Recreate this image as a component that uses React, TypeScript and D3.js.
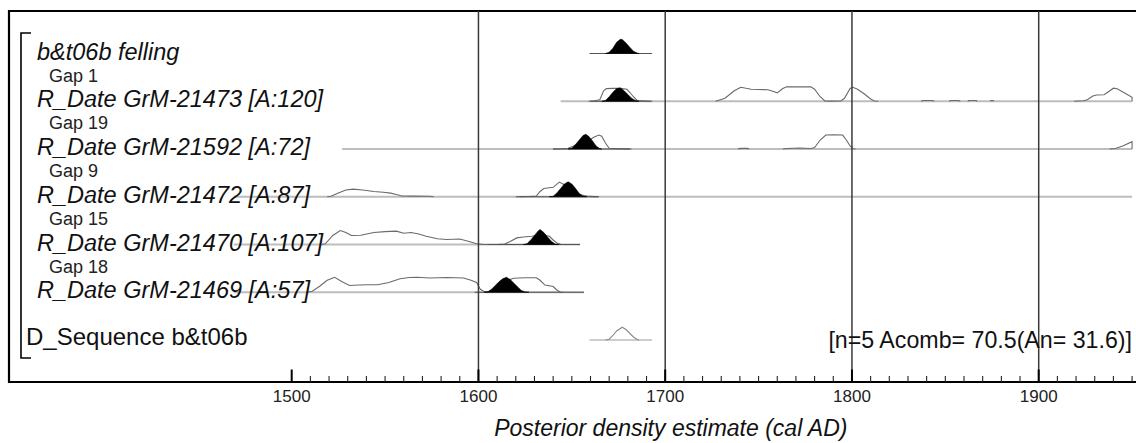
import React, { useEffect, useRef } from 'react';
import * as d3 from 'd3';

type Pt = [number, number];

const width = 1136;
const height = 443;

const rowLabels = [
  'b&t06b felling',
  'R_Date GrM-21473 [A:120]',
  'R_Date GrM-21592 [A:72]',
  'R_Date GrM-21472 [A:87]',
  'R_Date GrM-21470 [A:107]',
  'R_Date GrM-21469 [A:57]',
];
const gapLabels = ['Gap 1', 'Gap 19', 'Gap 9', 'Gap 15', 'Gap 18'];
const seqLabel = 'D_Sequence b&t06b';
const seqNote = '[n=5 Acomb= 70.5(An= 31.6)]';
const axisTitle = 'Posterior density estimate (cal AD)';
const majorTicks = [1500, 1600, 1700, 1800, 1900];
const gridYears = [1600, 1700, 1800, 1900];

// grey line = range of the unmodelled date, rows 1..5
const likeRanges: Pt[] = [[1644, 1950], [1527, 1950], [1469, 1950], [1469, 1654.4], [1469, 1656.5]];
// dark line = range of the posterior, rows 0..5
const postRanges: Pt[] = [[1659.5, 1693], [1660, 1693], [1640, 1681], [1620, 1664.6], [1605, 1654.4], [1598, 1656.5]];

// posterior densities (relative height), rows 0..5
const fellingPost: Pt[] = [[1668, 0], [1670, 0.08], [1672, 0.35], [1674, 0.75], [1676, 0.95], [1677, 0.93], [1679, 0.7], [1681, 0.42], [1683, 0.15], [1685, 0.03], [1686, 0]];
const post21473: Pt[] = [[1666, 0], [1668, 0.05], [1670, 0.3], [1672, 0.6], [1674, 0.85], [1676, 0.89], [1678, 0.7], [1680, 0.45], [1682, 0.2], [1684, 0.05], [1686, 0]];
const post21592: Pt[] = [[1648, 0], [1650, 0.05], [1652, 0.3], [1654, 0.6], [1656, 0.9], [1657.5, 0.98], [1659, 0.85], [1661, 0.55], [1663, 0.2], [1665, 0.02], [1666, 0]];
const post21472: Pt[] = [[1638, 0], [1640, 0.03], [1642, 0.25], [1644, 0.55], [1646, 0.85], [1648, 1], [1650, 0.85], [1652, 0.55], [1654, 0.22], [1656, 0.03], [1658, 0]];
const post21470: Pt[] = [[1624, 0], [1626, 0.05], [1628, 0.3], [1630, 0.6], [1632, 0.9], [1633, 1], [1635, 0.8], [1637, 0.5], [1639, 0.22], [1641, 0.03], [1643, 0]];
const post21469: Pt[] = [[1603, 0], [1605, 0.03], [1607, 0.2], [1609, 0.45], [1611, 0.7], [1613, 0.9], [1615, 1], [1617, 0.85], [1619, 0.6], [1621, 0.35], [1623, 0.12], [1625, 0.02], [1627, 0]];

// unmodelled likelihoods, each row a list of bumps
const like21473: Pt[][] = [
  [[1659, 0], [1662, 0.03], [1665, 0.1], [1667, 0.7], [1668.5, 0.84], [1672, 0.86], [1676, 0.86], [1679.5, 0.8], [1681, 0.6], [1683, 0.3], [1685, 0.05], [1688, 0.03], [1692, 0]],
  [[1727, 0], [1732, 0.2], [1737, 0.7], [1740.5, 0.93], [1746, 0.8], [1750, 0.78], [1755, 0.77], [1758, 0.65], [1760, 0.56], [1763, 0.85], [1765, 0.96], [1770, 0.96], [1778, 0.96], [1780, 0.8], [1783, 0.3], [1785.5, 0.02], [1788, 0.01], [1794, 0.02], [1796, 0.2], [1799, 0.85], [1800.5, 0.93], [1803, 0.8], [1806.5, 0.5], [1810, 0.15], [1812, 0.02], [1814, 0]],
  [[1837, 0], [1838, 0.05], [1843, 0.05], [1844, 0]],
  [[1852, 0], [1853, 0.05], [1857, 0.05], [1858, 0]],
  [[1862, 0], [1862.5, 0.05], [1866.5, 0.05], [1867, 0]],
  [[1874, 0], [1874.5, 0.05], [1875.5, 0.05], [1876, 0]],
  [[1919, 0], [1924, 0.03], [1926, 0.1], [1929, 0.35], [1931, 0.42], [1935, 0.43], [1937, 0.6], [1940, 0.87], [1942, 0.83], [1946, 0.55], [1950, 0.27], [1950, 0]],
];
const like21592: Pt[][] = [
  [[1640, 0], [1645, 0.02], [1648, 0.05], [1651, 0.2], [1654, 0.4], [1657, 0.55], [1659.5, 0.6], [1662, 0.8], [1664.5, 0.93], [1666, 0.85], [1668, 0.4], [1670, 0.05], [1675, 0.02], [1680, 0.01], [1682, 0]],
  [[1739, 0], [1740, 0.04], [1744, 0.04], [1745, 0]],
  [[1763, 0], [1765, 0.03], [1772, 0.07], [1778, 0.03], [1780, 0.1], [1783, 0.6], [1786, 0.93], [1790, 0.95], [1795, 0.93], [1797, 0.6], [1799, 0.2], [1800.6, 0.02], [1802, 0]],
  [[1938, 0], [1941, 0.03], [1945, 0.2], [1950, 0.49], [1950, 0]],
];
const like21472: Pt[][] = [
  [[1519, 0], [1521, 0.03], [1525, 0.25], [1529, 0.45], [1533, 0.51], [1538, 0.45], [1544, 0.35], [1549, 0.3], [1553, 0.24], [1556, 0.15], [1559, 0.05], [1565, 0.04], [1574, 0.03], [1576, 0]],
  [[1622, 0], [1627, 0.02], [1631, 0.05], [1633, 0.35], [1635, 0.55], [1638, 0.6], [1640, 0.63], [1643.3, 0.98], [1646, 0.8], [1650, 0.45], [1654, 0.15], [1658, 0.04], [1662, 0.01], [1664, 0]],
];
const like21470: Pt[][] = [
  [[1516, 0], [1518, 0.05], [1522, 0.6], [1526, 0.93], [1529, 0.8], [1532, 0.6], [1537, 0.62], [1544, 0.8], [1550, 0.86], [1556, 0.89], [1560, 0.75], [1564, 0.8], [1568, 0.7], [1572, 0.55], [1578, 0.38], [1583, 0.33], [1590, 0.37], [1595, 0.2], [1599, 0.05], [1602, 0.01], [1606, 0]],
  [[1610, 0], [1614, 0.03], [1617, 0.2], [1620.5, 0.44], [1624, 0.5], [1628.5, 0.55], [1631, 0.6], [1636, 0.6], [1638, 0.55], [1640, 0.3], [1642, 0.1], [1644, 0.02], [1646, 0]],
];
const like21469: Pt[][] = [
  [[1508, 0], [1511, 0.07], [1515, 0.4], [1519, 0.8], [1523, 1], [1527, 0.7], [1531, 0.45], [1536, 0.48], [1541, 0.5], [1546, 0.5], [1552, 0.65], [1558, 0.9], [1563, 0.98], [1567, 1], [1574, 0.95], [1583, 0.98], [1592, 0.95], [1596, 0.8], [1599, 0.65], [1601, 0.2], [1603, 0.05], [1606, 0.04], [1610, 0.3], [1614, 0.7], [1618.7, 0.93], [1625, 0.97], [1631, 0.97], [1633, 0.8], [1635.6, 0.48], [1640, 0.38], [1642, 0.15], [1643.7, 0.02], [1645, 0]],
];
// D_Sequence summary outline
const seqDist: Pt[] = [[1668, 0], [1670, 0.05], [1672, 0.3], [1674, 0.6], [1677, 0.85], [1679, 0.7], [1681, 0.45], [1683, 0.2], [1685, 0.03], [1686, 0]];
const seqRange: Pt = [1659.5, 1693];

const posts = [fellingPost, post21473, post21592, post21472, post21470, post21469];
const likes = [like21473, like21592, like21472, like21470, like21469];

const FONT = '"Liberation Sans", Arial, Helvetica, sans-serif';

const App: React.FC = () => {
  const svgRef = useRef<SVGSVGElement>(null);

  useEffect(() => {
    if (!svgRef.current) return;
    const svg = d3.select(svgRef.current);
    svg.selectAll('*').remove();

    const left = 9;
    const top = 11;
    const axisY = 382;

    const x = d3.scaleLinear().domain([1500, 1900]).range([291.7, 1038.7]);
    const rowY = d3.scalePoint<number>().domain(d3.range(7)).range([53.5, 340]);
    const h = d3.scaleLinear().domain([0, 1]).range([0, 15]);

    // frame
    svg.append('line').attr('x1', left).attr('x2', width).attr('y1', top).attr('y2', top)
      .attr('stroke', '#000').attr('stroke-width', 2.2);
    svg.append('line').attr('x1', left).attr('x2', left).attr('y1', top - 1).attr('y2', axisY + 1)
      .attr('stroke', '#000').attr('stroke-width', 2.2);

    // grey ranges of the unmodelled dates
    likeRanges.forEach((r, i) => {
      svg.append('line')
        .attr('x1', x(r[0])).attr('x2', x(r[1]))
        .attr('y1', rowY(i + 1)!).attr('y2', rowY(i + 1)!)
        .attr('stroke', '#bdbdbd').attr('stroke-width', 1.8);
    });
    svg.append('line')
      .attr('x1', x(seqRange[0])).attr('x2', x(seqRange[1]))
      .attr('y1', rowY(6)!).attr('y2', rowY(6)!)
      .attr('stroke', '#bdbdbd').attr('stroke-width', 1.6);

    // likelihood outlines
    likes.forEach((bumps, i) => {
      const y0 = rowY(i + 1)!;
      const line = d3.line<Pt>().x(d => x(d[0])).y(d => y0 - h(d[1]));
      bumps.forEach(b => {
        svg.append('path').attr('d', line(b)!)
          .attr('fill', 'none').attr('stroke', '#6a6a6a').attr('stroke-width', 1.1);
      });
    });
    {
      const y0 = rowY(6)!;
      const line = d3.line<Pt>().x(d => x(d[0])).y(d => y0 - h(d[1]));
      svg.append('path').attr('d', line(seqDist)!)
        .attr('fill', 'none').attr('stroke', '#8a8a8a').attr('stroke-width', 1.1);
    }

    // posterior ranges + filled posteriors
    postRanges.forEach((r, i) => {
      svg.append('line')
        .attr('x1', x(r[0])).attr('x2', x(r[1]))
        .attr('y1', rowY(i)!).attr('y2', rowY(i)!)
        .attr('stroke', '#555').attr('stroke-width', 1.1);
    });
    posts.forEach((p, i) => {
      const y0 = rowY(i)!;
      const area = d3.area<Pt>().x(d => x(d[0])).y0(y0).y1(d => y0 - h(d[1]));
      svg.append('path').attr('d', area(p)!).attr('fill', '#000')
        .attr('stroke', '#000').attr('stroke-width', 0.6);
    });

    // vertical grid
    gridYears.forEach(yr => {
      svg.append('line').attr('x1', x(yr)).attr('x2', x(yr))
        .attr('y1', top).attr('y2', axisY)
        .attr('stroke', '#3a3a3a').attr('stroke-width', 1.5);
    });

    // axis line and ticks
    svg.append('line').attr('x1', left - 1).attr('x2', width).attr('y1', axisY).attr('y2', axisY)
      .attr('stroke', '#000').attr('stroke-width', 2.2);
    const minor = d3.range(1500, 1951, 10).filter(v => !majorTicks.includes(v));
    minor.forEach(v => {
      svg.append('line').attr('x1', x(v)).attr('x2', x(v)).attr('y1', axisY).attr('y2', axisY - 6)
        .attr('stroke', '#222').attr('stroke-width', 1.1);
    });
    majorTicks.forEach(v => {
      svg.append('line').attr('x1', x(v)).attr('x2', x(v)).attr('y1', axisY).attr('y2', axisY - 12.5)
        .attr('stroke', '#000').attr('stroke-width', 2);
      svg.append('text').attr('x', x(v)).attr('y', 401.5)
        .attr('text-anchor', 'middle').attr('font-family', FONT).attr('font-size', 17)
        .attr('fill', '#222').text(String(v));
    });
    svg.append('text').attr('x', x(1703)).attr('y', 436)
      .attr('text-anchor', 'middle').attr('font-family', FONT).attr('font-size', 23)
      .attr('font-style', 'italic').attr('fill', '#111').text(axisTitle);

    // bracket
    svg.append('path')
      .attr('d', 'M31,33 H21 V358 H31')
      .attr('fill', 'none').attr('stroke', '#000').attr('stroke-width', 1.6);

    // labels
    rowLabels.forEach((t, i) => {
      svg.append('text').attr('x', 37).attr('y', rowY(i)! + 6)
        .attr('font-family', FONT).attr('font-size', 23.5).attr('font-style', 'italic')
        .attr('fill', '#111').text(t);
    });
    gapLabels.forEach((t, i) => {
      svg.append('text').attr('x', 49).attr('y', rowY(i + 1)! - 19.6)
        .attr('font-family', FONT).attr('font-size', 18)
        .attr('fill', '#222').text(t);
    });
    svg.append('text').attr('x', 26).attr('y', rowY(6)! + 5)
      .attr('font-family', FONT).attr('font-size', 24)
      .attr('fill', '#111').text(seqLabel);
    svg.append('text').attr('x', 1132).attr('y', rowY(6)! + 7.5)
      .attr('text-anchor', 'end')
      .attr('font-family', FONT).attr('font-size', 23.2)
      .attr('fill', '#111').text(seqNote);
  }, []);

  return (
    <svg ref={svgRef} width={width} height={height}
      style={{ position: 'absolute', left: 0, top: 0, background: '#fff' }} />
  );
};

export default App;
